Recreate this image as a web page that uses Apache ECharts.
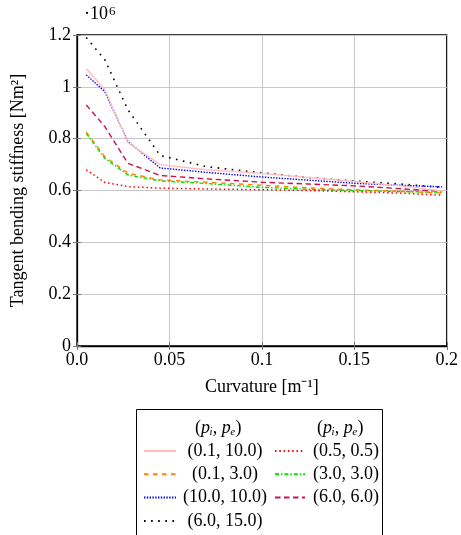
<!DOCTYPE html>
<html><head><meta charset="utf-8">
<script src="https://cdn.jsdelivr.net/npm/echarts@6/dist/echarts.min.js"></script>
<style>html,body{margin:0;padding:0;background:#fff}#c{width:461px;height:535px}</style>
</head><body><div id="c"></div>
<script>
const curvature = [0.005, 0.015, 0.0275, 0.045, 0.07, 0.1, 0.125, 0.15, 0.175, 0.1975];
const s_01_100 = [1.07, 0.99, 0.785, 0.70, 0.68, 0.666, 0.65, 0.635, 0.618, 0.598];
const s_01_30  = [0.825, 0.731, 0.667, 0.641, 0.632, 0.62, 0.61, 0.603, 0.597, 0.59];
const s_100_100= [1.046, 0.982, 0.789, 0.687, 0.67, 0.652, 0.64, 0.628, 0.62, 0.614];
const s_60_150 = [1.19, 1.105, 0.912, 0.735, 0.692, 0.668, 0.65, 0.637, 0.625, 0.612];
const s_05_05  = [0.68, 0.631, 0.615, 0.609, 0.606, 0.603, 0.6, 0.595, 0.59, 0.582];
const s_30_30  = [0.82, 0.725, 0.66, 0.637, 0.627, 0.612, 0.605, 0.6, 0.596, 0.593];
const s_60_60  = [0.93, 0.847, 0.705, 0.658, 0.645, 0.632, 0.625, 0.618, 0.607, 0.596];
const names = ['(0.1, 10.0)','(0.1, 3.0)','(10.0, 10.0)','(6.0, 15.0)','(0.5, 0.5)','(3.0, 3.0)','(6.0, 6.0)'];
const xTicks = ['0.0','0.05','0.1','0.15','0.2'];

const FONT = 'Liberation Serif';
const FS = 18;
const styles = [
  {color:'#ffbfbf', type:'solid', w:1.4},
  {color:'#ff8000', type:[4.5,4.5], w:1.4},
  {color:'#0000ff', type:[1.4,1.4], w:1.4},
  {color:'#000000', type:[1.6,5.5], w:1.6},
  {color:'#ff0000', type:[1.5,2.8], w:1.5},
  {color:'#00e000', type:[4,2,1.4,2], w:1.4},
  {color:'#c8144f', type:[5.5,3.5], w:1.4}
];
const vals = [s_01_100, s_01_30, s_100_100, s_60_150, s_05_05, s_30_30, s_60_60];
const zip = a => curvature.map((x,i)=>[x,a[i]]);

const series = vals.map((v,i)=>({
  name: names[i], type:'line', data: zip(v), showSymbol:false, symbol:'none',
  lineStyle:{color:styles[i].color, type:styles[i].type, width:styles[i].w, cap:'butt'},
  itemStyle:{color:styles[i].color},
  emphasis:{disabled:true}, animation:false, z: 10 - i
}));

const chart = echarts.init(document.getElementById('c'), null, {renderer:'canvas'});
const legendText = w => ({
  fontFamily: FONT, fontSize: FS, color:'#000', lineHeight: 16,
  rich: {a:{width:w, align:'center', fontFamily: FONT, fontSize:FS, lineHeight:16}}
});
const header = (x) => ({
  type:'text', left: x, top: 419, z:5,
  style:{
    text:'({p|p\u1D62}, {p|p\u2091})',
    fontFamily: FONT, fontSize:FS, fill:'#000',
    rich:{
      p:{fontFamily:FONT, fontSize:FS, fontStyle:'italic'}
    }
  }
});
chart.setOption({
  animation:false,
  backgroundColor:'#fff',
  textStyle:{fontFamily:FONT},
  grid:{left:77, right:10, top:35, bottom:189, show:true, borderColor:'#000', borderWidth:1.3, backgroundColor:'transparent'},
  xAxis:[{
    type:'value', min:0, max:0.2, interval:0.05,
    name:'Curvature [m\u207B\u00B9]', nameLocation:'middle', nameGap:32,
    nameTextStyle:{fontFamily:FONT, fontSize:FS, color:'#000'},
    axisLine:{show:true, lineStyle:{color:'#000', width:1.3}},
    axisTick:{show:true, inside:true, length:4, lineStyle:{color:'#777'}},
    axisLabel:{fontFamily:FONT, fontSize:FS, color:'#000', margin:5,
      formatter:(v)=>xTicks[Math.round(v/0.05)]},
    splitLine:{show:true, lineStyle:{color:'#c8c8c8', width:1}}
  },{
    type:'value', min:0, max:0.2, interval:0.05, position:'top',
    axisLine:{show:false}, axisLabel:{show:false}, splitLine:{show:false},
    axisTick:{show:true, inside:true, length:4, lineStyle:{color:'#777'}}
  }],
  yAxis:[{
    type:'value', min:0, max:1.2, interval:0.2,
    name:'Tangent bending stiffness [Nm\u00B2]', nameLocation:'middle', nameGap:50,
    nameTextStyle:{fontFamily:FONT, fontSize:FS, color:'#000'},
    axisLine:{show:true, lineStyle:{color:'#000', width:1.3}},
    axisTick:{show:true, inside:true, length:4, lineStyle:{color:'#777'}},
    axisLabel:{fontFamily:FONT, fontSize:FS, color:'#000', margin:6,
      formatter:(v)=> v===0 ? '0' : String(Math.round(v*10)/10)},
    splitLine:{show:true, lineStyle:{color:'#c8c8c8', width:1}}
  },{
    type:'value', min:0, max:1.2, interval:0.2, position:'right',
    axisLine:{show:false}, axisLabel:{show:false}, splitLine:{show:false},
    axisTick:{show:true, inside:true, length:4, lineStyle:{color:'#777'}}
  }],
  legend:[{
    orient:'vertical', left:143, top:442, width:130, height:140, itemWidth:32, itemHeight:14, itemGap:5.3, padding:0,
    data:[names[0],names[1],names[2],names[3]],
    formatter: n => '{a|'+n+'}', textStyle: legendText(88), itemTextGap:3,
    itemStyle:{opacity:0},
    selectedMode:false, z:20
  },{
    orient:'vertical', left:274, top:442, width:110, height:140, itemWidth:30, itemHeight:14, itemGap:5.3, padding:0,
    data:[names[4],names[5],names[6]],
    formatter: n => '{a|'+n+'}', textStyle: legendText(72), itemTextGap:3,
    itemStyle:{opacity:0},
    selectedMode:false, z:20
  }],
  graphic:[
    {type:'rect', shape:{x:136.5, y:409.5, width:246, height:140}, style:{fill:'#fff', stroke:'#000', lineWidth:1}, z:1},
    header(195), header(317),
    {type:'text', left:84, top:5, z:5, style:{text:'\u00B710{s|6}', fontFamily:FONT, fontSize:FS, fill:'#000',
      rich:{s:{fontFamily:FONT, fontSize:13, verticalAlign:'top', padding:[0,0,6,1]}}}}
  ],
  series: series
});
</script></body></html>
